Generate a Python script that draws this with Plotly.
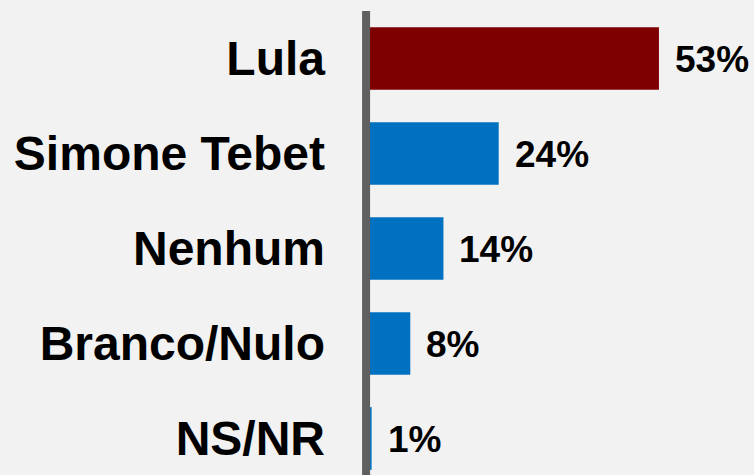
import plotly.graph_objects as go

categories = ["Lula", "Simone Tebet", "Nenhum", "Branco/Nulo", "NS/NR"]
values = [53, 24, 14, 8, 1]
labels = ["53%", "24%", "14%", "8%", "1%"]
colors = ["#7f0000", "#0070c0", "#0070c0", "#0070c0", "#0070c0"]

FONT = "Liberation Sans, Arial, sans-serif"

fig = go.Figure()
fig.add_trace(go.Bar(
    x=values, y=categories, orientation="h",
    marker=dict(color=colors, line=dict(width=0)),
    width=0.66, hoverinfo="skip",
))

for c, v, t in zip(categories, values, labels):
    fig.add_annotation(x=v, y=c, text=t, showarrow=False, xanchor="left",
                       xshift=14, yshift=-1,
                       font=dict(family=FONT, size=37, color="#000000", weight="bold"))

fig.add_shape(type="line", xref="x", yref="paper", x0=0, x1=0, y0=0, y1=1,
              line=dict(color="#606060", width=8), layer="above")

fig.update_layout(
    width=754, height=475,
    margin=dict(l=360, r=0, t=11, b=0),
    paper_bgcolor="#f2f2f2", plot_bgcolor="#f2f2f2",
    showlegend=False,
    xaxis=dict(range=[-1.1, 70.2], visible=False, showgrid=False, zeroline=False),
    yaxis=dict(categoryorder="array", categoryarray=categories,
               range=[4.384, -0.5], showgrid=False, zeroline=False, showline=False,
               ticks="", ticklabelstandoff=34,
               tickfont=dict(family=FONT, size=48, color="#000000", weight="bold")),
)

fig.write_html("out.html",
               config={"displayModeBar": False},
               post_script="document.body.style.margin='0';document.body.style.background='#f2f2f2';")
